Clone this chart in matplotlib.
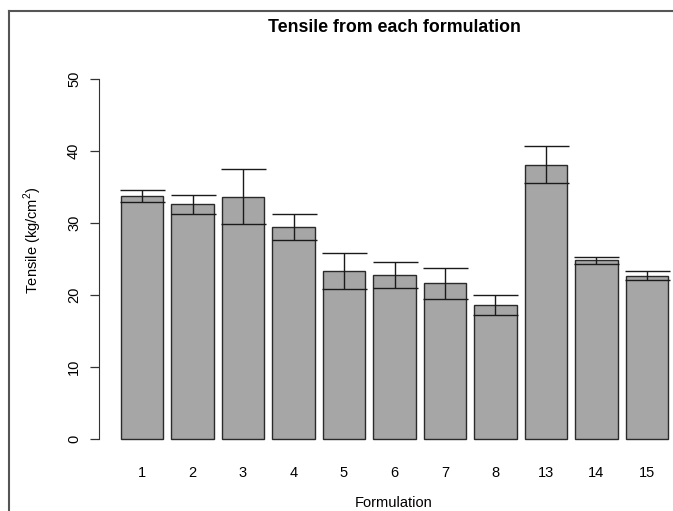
import numpy as np
import matplotlib.pyplot as plt
from matplotlib.lines import Line2D

plt.rcParams['font.family'] = ['Liberation Sans', 'DejaVu Sans']
plt.rcParams['mathtext.fontset'] = 'custom'
plt.rcParams['mathtext.rm'] = 'Liberation Sans'

formulations = ['1', '2', '3', '4', '5', '6', '7', '8', '13', '14', '15']
tensile_mean = [33.8, 32.6, 33.65, 29.4, 23.3, 22.8, 21.6, 18.6, 38.1, 24.8, 22.7]
tensile_err  = [0.85, 1.35, 3.85, 1.8, 2.5, 1.8, 2.2, 1.4, 2.55, 0.47, 0.65]
yticks       = [0, 10, 20, 30, 40, 50]

W, H = 673, 511
fig = plt.figure(figsize=(W/100, H/100), dpi=100)

# plot region in pixels (R style, bars run off the right edge of the image)
left_px, right_px = 99.1, 689.9
top_px, bot_px = 64.6, 453.4
ax = fig.add_axes([left_px/W, 1 - bot_px/H, (right_px-left_px)/W, (bot_px-top_px)/H])

x = np.arange(len(formulations))
ax.bar(x, tensile_mean, width=1/1.2, color='#a6a6a6', edgecolor='#2a2a2a',
       linewidth=1.0, zorder=2)
ax.errorbar(x, tensile_mean, yerr=tensile_err, fmt='none', ecolor='#1a1a1a',
            elinewidth=1.0, capsize=16.2, capthick=1.0, zorder=3)

ax.set_xlim(-0.85, 10.85)
ax.set_ylim(-2, 52)

for s in ['top', 'right', 'bottom']:
  ax.spines[s].set_visible(False)
ax.spines['left'].set_bounds(0, 50)
ax.spines['left'].set_color('#333333')

ax.set_yticks(yticks)
ax.set_yticklabels([str(t) for t in yticks], rotation=90, va='center', fontsize=10.5)
ax.tick_params(axis='y', length=6.5, width=0.9, color='#333333', pad=6.5)
ax.set_xticks(x)
ax.set_xticklabels(formulations, fontsize=10.5)
ax.tick_params(axis='x', length=0, pad=9)

fig.text(394/W, 1 - 28/H, 'Tensile from each formulation', ha='center', va='center',
         fontsize=12.8, fontweight='bold')
fig.text(394/W, 1 - 503/H, 'Formulation', ha='center', va='center', fontsize=10.5)
fig.text(33/W, 1 - 240/H, r'Tensile (kg/cm$^{\mathrm{2}}$)', ha='center', va='center',
         rotation=90, fontsize=10.5)

# outer frame (only top and left visible in the crop)
fig.add_artist(Line2D([9/W, 1], [1 - 11/H, 1 - 11/H], color='#555555', lw=1.5))
fig.add_artist(Line2D([9/W, 9/W], [1 - 11/H, 0], color='#555555', lw=1.5))

fig.savefig('out.png', dpi=100)
